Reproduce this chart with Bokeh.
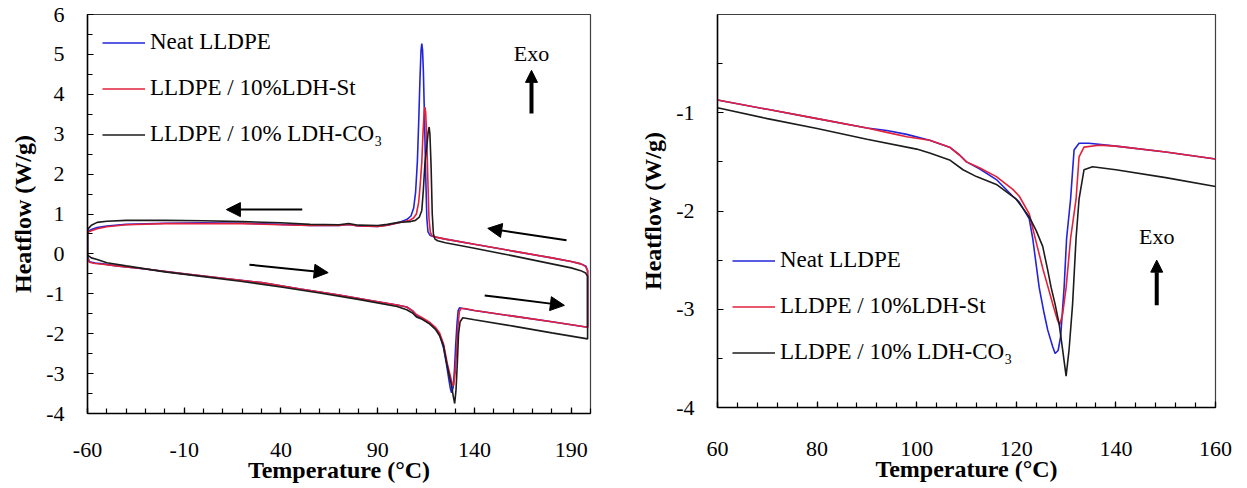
from bokeh.plotting import figure
from bokeh.layouts import row
from bokeh.models import (Range1d, FixedTicker, SingleIntervalTicker, Arrow,
                          NormalHead, Label, Legend, LegendItem,
                          CustomJSTickFormatter)
from bokeh.embed import file_html
from bokeh.resources import INLINE

SERIES = ["Neat LLDPE", "LLDPE / 10%LDH-St", "LLDPE / 10% LDH-CO\u2083"]
COLORS = ["#2323d8", "#e3213a", "#1c1c1c"]
FONT = "Liberation Serif"

# ---------------- full DSC cycle (-60 to 200 °C) ----------------
# heating scans
heat_T_neat = [-60, -59, -56, -52, -45, -30, -10, 10, 30, 50, 70, 90, 100, 105, 108,
               110, 113, 117, 120, 122, 124, 125.5, 126.8, 127.6, 128.2, 129, 129.7,
               130.3, 131, 131.6, 132.3, 134, 140, 160, 180, 198.5]
heat_neat = [-0.05, -0.20, -0.23, -0.25, -0.30, -0.38, -0.50, -0.61, -0.72, -0.88,
             -1.03, -1.20, -1.28, -1.33, -1.43, -1.55, -1.62, -1.75, -1.88, -2.02,
             -2.35, -2.75, -3.15, -3.38, -3.48, -3.35, -2.90, -2.30, -1.75, -1.42,
             -1.35, -1.37, -1.42, -1.56, -1.70, -1.84]

heat_T_st = [-60, -59, -56, -52, -45, -30, -10, 10, 30, 50, 70, 90, 100, 105, 108,
             110, 113, 117, 120, 122, 124, 126, 127.5, 128.5, 129.2, 130, 130.8,
             131.5, 132.2, 133, 135, 140, 160, 180, 198.5]
heat_st = [-0.10, -0.21, -0.24, -0.26, -0.30, -0.38, -0.50, -0.61, -0.72, -0.88,
           -1.03, -1.20, -1.28, -1.33, -1.42, -1.52, -1.60, -1.72, -1.85, -1.98,
           -2.25, -2.75, -3.05, -3.25, -3.30, -3.00, -2.40, -1.80, -1.45, -1.37,
           -1.37, -1.42, -1.56, -1.70, -1.84]

heat_T_co3 = [-60, -58, -55, -50, -40, -20, 0, 20, 40, 60, 80, 100, 105, 108, 110,
              113, 117, 120, 122, 124, 125.5, 127, 128.2, 129, 129.8, 130.5, 131.2,
              131.8, 132.6, 134, 140, 160, 180, 198.5]
heat_co3 = [-0.03, -0.10, -0.14, -0.22, -0.30, -0.45, -0.57, -0.69, -0.83, -0.98,
            -1.14, -1.32, -1.40, -1.48, -1.58, -1.64, -1.76, -1.90, -2.05, -2.30,
            -2.70, -3.05, -3.30, -3.55, -3.75, -3.40, -2.70, -2.00, -1.70, -1.60,
            -1.65, -1.81, -1.98, -2.13]

# cooling scans
cool_T_neat = [198.5, 197.5, 195, 190, 180, 160, 140, 125, 119, 117, 116, 115.4,
               114.8, 114.2, 113.6, 113.2, 112.8, 112.4, 111.8, 111.2, 110.5, 109.6,
               108.6, 107.2, 105, 101, 95, 90, 80, 75, 70, 55, 40, 20, 0, -20, -40,
               -50, -55, -58, -59.5, -60]
cool_neat = [-0.42, -0.30, -0.25, -0.19, -0.10, 0.07, 0.24, 0.37, 0.43, 0.47, 0.55,
             0.90, 2.00, 3.40, 4.60, 5.10, 5.27, 5.10, 4.30, 3.30, 2.30, 1.55, 1.15,
             0.95, 0.86, 0.79, 0.72, 0.69, 0.70, 0.74, 0.71, 0.71, 0.74, 0.77, 0.78,
             0.77, 0.74, 0.70, 0.66, 0.61, 0.57, 0.50]

cool_T_st = [198.5, 197.5, 195, 190, 180, 160, 140, 125, 120, 118, 117.2, 116.5,
             115.9, 115.3, 114.8, 114.4, 114.0, 113.4, 112.8, 112, 111.2, 110, 108.5,
             106.5, 104, 101, 95, 90, 80, 75, 70, 55, 40, 20, 0, -20, -40, -50, -55,
             -58, -59.5, -60]
cool_st = [-0.42, -0.32, -0.25, -0.19, -0.10, 0.07, 0.24, 0.37, 0.42, 0.46, 0.55,
           0.90, 1.90, 3.00, 3.55, 3.68, 3.55, 3.00, 2.30, 1.75, 1.30, 1.00, 0.90,
           0.84, 0.81, 0.78, 0.72, 0.69, 0.70, 0.74, 0.71, 0.71, 0.73, 0.76, 0.76,
           0.76, 0.73, 0.68, 0.63, 0.58, 0.55, 0.50]

cool_T_co3 = [198.5, 197.5, 195, 190, 180, 160, 140, 125, 121, 119.6, 118.8, 118.2,
              117.6, 117.0, 116.6, 116.1, 115.4, 114.4, 113.6, 112.8, 111.5, 109.5,
              107, 104, 101, 95, 90, 80, 75, 70, 55, 40, 20, 0, -20, -40, -50, -55,
              -58, -59.5, -60]
cool_co3 = [-0.56, -0.48, -0.42, -0.35, -0.25, -0.05, 0.14, 0.28, 0.33, 0.37, 0.50,
            1.00, 2.20, 3.00, 3.18, 3.05, 2.70, 2.26, 1.60, 1.09, 0.92, 0.84, 0.81,
            0.80, 0.79, 0.74, 0.71, 0.72, 0.76, 0.73, 0.74, 0.78, 0.81, 0.83, 0.84,
            0.84, 0.82, 0.79, 0.72, 0.64, 0.58]

# ---------------- melting region, heating (60 to 160 °C) ----------------
melt_T_neat = [60, 70, 80, 90, 94, 98, 102.6, 106.6, 108.6, 110, 112.6, 116, 119.3,
               120.6, 122.6, 123.3, 124.6, 125.5, 126.3, 127.3, 127.8, 128.4, 128.9,
               129.6, 130.1, 130.9, 131.6, 132.6, 134.6, 140, 150, 160]
melt_neat = [-0.87, -0.965, -1.06, -1.155, -1.18, -1.22, -1.28, -1.35, -1.43, -1.50,
             -1.57, -1.68, -1.85, -1.91, -2.08, -2.28, -2.78, -3.02, -3.21, -3.38,
             -3.45, -3.42, -3.28, -2.78, -2.28, -1.88, -1.38, -1.31, -1.31, -1.34,
             -1.40, -1.47]

melt_T_st = [60, 70, 80, 90, 94, 98, 102.6, 106.6, 108.6, 110, 112.6, 116, 119.3,
             120.6, 122.6, 124.2, 125.4, 126.4, 127.5, 128.2, 128.7, 129.3, 130,
             130.9, 132, 132.6, 133.6, 136.6, 140, 150, 160]
melt_st = [-0.87, -0.965, -1.06, -1.155, -1.20, -1.245, -1.28, -1.35, -1.43, -1.50,
           -1.56, -1.65, -1.78, -1.85, -2.03, -2.36, -2.60, -2.78, -2.98, -3.10,
           -3.16, -3.05, -2.78, -2.28, -1.88, -1.45, -1.35, -1.33, -1.34, -1.40,
           -1.47]

melt_T_co3 = [60, 70, 80, 90, 100, 102.6, 106.6, 109.3, 112, 116, 120, 122.6, 124.0,
              125.3, 126.3, 127.0, 127.8, 128.6, 129.3, 130, 130.6, 131.3, 132,
              132.6, 133.6, 135.3, 140, 150, 160]
melt_co3 = [-0.95, -1.06, -1.16, -1.27, -1.37, -1.41, -1.48, -1.58, -1.65, -1.73,
            -1.88, -2.06, -2.20, -2.36, -2.60, -2.78, -2.95, -3.15, -3.41, -3.68,
            -3.41, -2.95, -2.28, -1.88, -1.58, -1.55, -1.58, -1.66, -1.75]

left_x_ticks = [-60, -10, 40, 90, 140, 190]
right_y_ticks = [-4, -3, -2, -1]

# plain hyphen-minus tick labels
plain_numbers = CustomJSTickFormatter(code="return String(tick);")


def style_axes(p, x_label_standoff):
    for ax in (p.xaxis[0], p.yaxis[0]):
        ax.formatter = plain_numbers
        ax.axis_line_color = "black"
        ax.axis_line_width = 1.5
        ax.major_tick_in = 6
        ax.major_tick_out = 0
        ax.minor_tick_in = 5
        ax.minor_tick_out = 0
        ax.major_tick_line_color = "black"
        ax.minor_tick_line_color = "black"
        ax.major_tick_line_width = 1.2
        ax.minor_tick_line_width = 1.2
        ax.major_label_text_font = FONT
        ax.major_label_text_font_size = "22px"
        ax.major_label_text_color = "black"
        ax.axis_label_text_font = FONT
        ax.axis_label_text_font_style = "bold"
        ax.axis_label_text_font_size = "24px"
        ax.axis_label_text_color = "black"
    p.xaxis.axis_label = "Temperature (\u00b0C)"
    p.yaxis.axis_label = "Heatflow (W/g)"
    p.xaxis.major_label_standoff = x_label_standoff
    p.yaxis.major_label_standoff = 23
    p.xaxis.axis_label_standoff = -3
    p.yaxis.axis_label_standoff = 7
    p.xgrid.visible = False
    p.ygrid.visible = False
    p.outline_line_color = "#404040"
    p.outline_line_width = 1.2


def add_legend(p, renderers, loc):
    items = [LegendItem(label=s, renderers=[r]) for s, r in zip(SERIES, renderers)]
    leg = Legend(items=items, location=loc, label_text_font=FONT,
                 label_text_font_size="23px", label_text_color="black",
                 glyph_width=43, glyph_height=25, label_height=25, spacing=20,
                 padding=0, margin=0, label_standoff=5,
                 border_line_alpha=0, background_fill_alpha=0)
    p.add_layout(leg)


def arrow(p, x0, y0, x1, y1, lw=2, size=14):
    p.add_layout(Arrow(end=NormalHead(size=size, fill_color="black",
                                      line_color="black", line_width=1),
                       x_start=x0, y_start=y0, x_end=x1, y_end=y1,
                       line_color="black", line_width=lw))


# ---------------- left panel: heating / cooling cycle ----------------
p1 = figure(frame_width=503, frame_height=399, min_border_left=87,
            min_border_right=30, min_border_top=14, min_border_bottom=75,
            x_range=Range1d(-60, 200), y_range=Range1d(-4, 6),
            output_backend="svg", toolbar_location=None)
p1.xaxis.ticker = FixedTicker(ticks=left_x_ticks,
                              minor_ticks=list(range(-60, 201, 10)))
p1.yaxis.ticker = SingleIntervalTicker(interval=1, num_minor_ticks=2)
style_axes(p1, 29)

cycles = [(heat_T_neat, heat_neat, cool_T_neat, cool_neat),
          (heat_T_st, heat_st, cool_T_st, cool_st),
          (heat_T_co3, heat_co3, cool_T_co3, cool_co3)]
left_lines = []
for (hT, hY, cT, cY), c in zip(cycles, COLORS):
    xs = hT + cT + hT[:1]
    ys = hY + cY + hY[:1]
    left_lines.append(p1.line(xs, ys, line_color=c, line_width=1.6))
add_legend(p1, left_lines, (15, 266))

arrow(p1, 51, 1.11, 11.8, 1.11)
arrow(p1, 187.6, 0.34, 146.9, 0.64)
arrow(p1, 23.7, -0.27, 64.4, -0.47)
arrow(p1, 145.3, -1.04, 186.5, -1.29)
p1.add_layout(Label(x=169.5, y=5.02, text="Exo", text_align="center",
                    text_baseline="middle", text_font=FONT,
                    text_font_size="22px", text_color="black"))
arrow(p1, 169.5, 3.52, 169.5, 4.6, lw=4, size=12)

# ---------------- right panel: melting region ----------------
p2 = figure(frame_width=498, frame_height=393, min_border_left=97,
            min_border_right=32, min_border_top=14, min_border_bottom=81,
            x_range=Range1d(60, 160), y_range=Range1d(-4, 0),
            output_backend="svg", toolbar_location=None)
p2.xaxis.ticker = SingleIntervalTicker(interval=20, num_minor_ticks=5)
p2.yaxis.ticker = FixedTicker(ticks=right_y_ticks,
                              minor_ticks=[-3.5, -2.5, -1.5, -0.5])
style_axes(p2, 34)

melts = [(melt_T_neat, melt_neat), (melt_T_st, melt_st), (melt_T_co3, melt_co3)]
right_lines = []
for (mT, mY), c in zip(melts, COLORS):
    right_lines.append(p2.line(mT, mY, line_color=c, line_width=1.6))
add_legend(p2, right_lines, (15, 42))

p2.add_layout(Label(x=148.2, y=-2.26, text="Exo", text_align="center",
                    text_baseline="middle", text_font=FONT,
                    text_font_size="22px", text_color="black"))
arrow(p2, 148.2, -2.96, 148.2, -2.5, lw=4, size=12)

layout = row(p1, p2)
open("out.html", "w").write(file_html(layout, INLINE))
